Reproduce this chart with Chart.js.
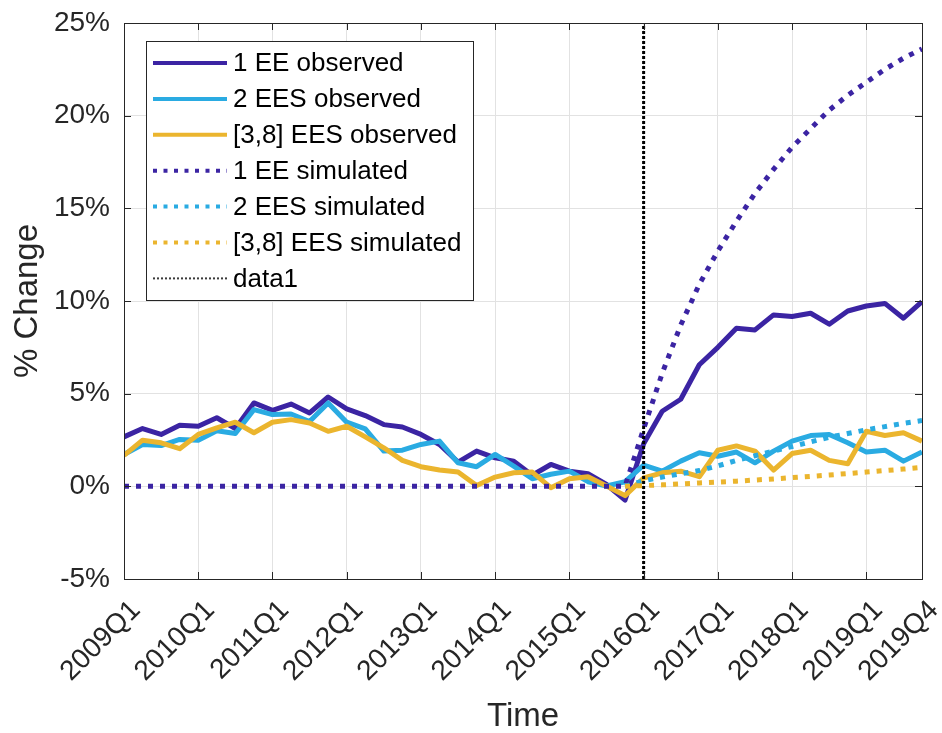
<!DOCTYPE html>
<html>
<head>
<meta charset="utf-8">
<title>% Change by quarter</title>
<script src="https://cdn.jsdelivr.net/npm/chart.js@4.4.1/dist/chart.umd.min.js"></script>
<style>
  html, body { margin: 0; padding: 0; background: #fff; }
  #wrap { width: 942px; height: 733px; }
</style>
</head>
<body>
<div id="wrap"><canvas id="changeChart" width="942" height="733"></canvas></div>
<script>
// quarters on the x axis
var quarters = [
    '2009Q1', '2009Q2', '2009Q3', '2009Q4', '2010Q1', '2010Q2', '2010Q3', '2010Q4',
    '2011Q1', '2011Q2', '2011Q3', '2011Q4', '2012Q1', '2012Q2', '2012Q3', '2012Q4',
    '2013Q1', '2013Q2', '2013Q3', '2013Q4', '2014Q1', '2014Q2', '2014Q3', '2014Q4',
    '2015Q1', '2015Q2', '2015Q3', '2015Q4', '2016Q1', '2016Q2', '2016Q3', '2016Q4',
    '2017Q1', '2017Q2', '2017Q3', '2017Q4', '2018Q1', '2018Q2', '2018Q3', '2018Q4',
    '2019Q1', '2019Q2', '2019Q3', '2019Q4'
];
var tickQuarters = ['2009Q1', '2010Q1', '2011Q1', '2012Q1', '2013Q1', '2014Q1',
    '2015Q1', '2016Q1', '2017Q1', '2018Q1', '2019Q1', '2019Q4'];
var yTicks = [-5, 0, 5, 10, 15, 20, 25];

// observed series (% change)
var ee1Observed = [2.67, 3.12, 2.8, 3.3, 3.24, 3.7, 3.12, 4.5, 4.1, 4.44, 3.96, 4.82,
    4.18, 3.82, 3.33, 3.2, 2.8, 2.26, 1.31, 1.9, 1.54, 1.36, 0.6, 1.18,
    0.82, 0.68, 0.1, -0.74, 2.3, 4.05, 4.7, 6.56, 7.5, 8.53, 8.44, 9.25,
    9.16, 9.34, 8.75, 9.46, 9.73, 9.87, 9.07, 9.96];
var ees2Observed = [1.72, 2.26, 2.2, 2.53, 2.49, 3.0, 2.85, 4.14, 3.87, 3.9, 3.5, 4.5,
    3.46, 3.1, 1.9, 1.95, 2.26, 2.44, 1.27, 1.06, 1.72, 1.09, 0.41, 0.65,
    0.82, 0.25, 0.02, 0.25, 1.15, 0.82, 1.36, 1.81, 1.62, 1.85, 1.27, 1.9,
    2.44, 2.74, 2.8, 2.35, 1.85, 1.95, 1.36, 1.85];
var ees38Observed = [1.67, 2.49, 2.35, 2.03, 2.8, 3.15, 3.46, 2.89, 3.46, 3.6, 3.42, 2.97,
    3.24, 2.67, 2.08, 1.4, 1.06, 0.88, 0.77, 0.05, 0.5, 0.73, 0.77, -0.07,
    0.41, 0.52, 0.02, -0.5, 0.45, 0.73, 0.82, 0.52, 1.95, 2.18, 1.9, 0.88,
    1.77, 1.95, 1.4, 1.22, 2.97, 2.74, 2.89, 2.44];

// simulated series (% change)
var ee1Simulated = [0, 0, 0, 0, 0, 0, 0, 0, 0, 0, 0, 0, 0, 0, 0, 0, 0, 0, 0, 0,
    0, 0, 0, 0, 0, 0, 0, 0, 3.1, 6.1, 8.7, 10.9, 12.7, 14.3, 15.8, 17.1,
    18.3, 19.3, 20.3, 21.1, 21.8, 22.5, 23.1, 23.6];
var ees2Simulated = [null, null, null, null, null, null, null, null, null, null, null, null,
    null, null, null, null, null, null, null, null, null, null, null, null, null, null, null,
    0, 0.3, 0.5, 0.68, 0.85, 1.1, 1.4, 1.65, 1.9, 2.15, 2.4, 2.65, 2.85,
    3.05, 3.22, 3.4, 3.55];
var ees38Simulated = [null, null, null, null, null, null, null, null, null, null, null, null,
    null, null, null, null, null, null, null, null, null, null, null, null, null, null, null,
    0, 0.04, 0.08, 0.13, 0.18, 0.23, 0.28, 0.34, 0.4, 0.47, 0.54, 0.61, 0.69,
    0.77, 0.85, 0.93, 1.02];

// vertical marker ("data1")
var markerQuarter = '2016Q1';
var markerRange = [-5, 25];

var PURPLE = '#3b24a3';
var CYAN = '#2aabe2';
var YELLOW = '#ebb52e';
var AXIS = '#262626';
var FONT = '"Liberation Sans", Arial, Helvetica, sans-serif';

function toPoints(values) {
    return values.map(function(v, i) { return {x: i, y: v}; });
}

function lineSet(label, values, color, dotted) {
    return {
        label: label,
        data: toPoints(values),
        borderColor: color,
        backgroundColor: color,
        borderWidth: 5,
        borderDash: dotted ? [5, 7] : [],
        borderCapStyle: 'butt',
        borderJoinStyle: dotted ? 'miter' : 'round',
        legendWidth: 4,
        legendDash: dotted ? [4, 6.5] : [],
        pointRadius: 0,
        tension: 0,
        fill: false,
        spanGaps: false
    };
}

var markerX = quarters.indexOf(markerQuarter);
var datasets = [
    lineSet('1 EE observed', ee1Observed, PURPLE, false),
    lineSet('2 EES observed', ees2Observed, CYAN, false),
    lineSet('[3,8] EES observed', ees38Observed, YELLOW, false),
    lineSet('1 EE simulated', ee1Simulated, PURPLE, true),
    lineSet('2 EES simulated', ees2Simulated, CYAN, true),
    lineSet('[3,8] EES simulated', ees38Simulated, YELLOW, true),
    {
        label: 'data1',
        data: [{x: markerX, y: markerRange[0]}, {x: markerX, y: markerRange[1]}],
        borderColor: '#000000',
        borderWidth: 3,
        borderDash: [3, 2],
        borderCapStyle: 'butt',
        legendColor: '#3a3a3a',
        legendWidth: 2,
        legendDash: [2, 2],
        pointRadius: 0,
        fill: false
    }
];
// later series are drawn on top, as in the original plot
datasets.forEach(function(ds, i) { ds.order = datasets.length - i; });

// box around the plot with inward tick marks
var framePlugin = {
    id: 'frame',
    afterDatasetsDraw: function(chart) {
        var ctx = chart.ctx, a = chart.chartArea;
        var xs = chart.scales.x, ys = chart.scales.y;
        var len = 7;
        ctx.save();
        ctx.strokeStyle = AXIS;
        ctx.lineWidth = 1;
        ctx.beginPath();
        xs.ticks.forEach(function(t) {
            var px = Math.round(xs.getPixelForValue(t.value)) + 0.5;
            ctx.moveTo(px, a.bottom); ctx.lineTo(px, a.bottom - len);
            ctx.moveTo(px, a.top); ctx.lineTo(px, a.top + len);
        });
        ys.ticks.forEach(function(t) {
            var py = Math.round(ys.getPixelForValue(t.value)) + 0.5;
            ctx.moveTo(a.left, py); ctx.lineTo(a.left + len, py);
            ctx.moveTo(a.right, py); ctx.lineTo(a.right - len, py);
        });
        ctx.stroke();
        ctx.strokeRect(Math.round(a.left) + 0.5, Math.round(a.top) + 0.5,
            Math.round(a.right - a.left), Math.round(a.bottom - a.top));
        ctx.restore();
    }
};

// boxed legend in the upper left of the plot
var boxLegendPlugin = {
    id: 'boxLegend',
    afterDraw: function(chart) {
        var ctx = chart.ctx, a = chart.chartArea;
        var left = a.left + 22, top = a.top + 18;
        var width = 327, rowH = 35.9, padTop = 22;
        var height = padTop * 2 + rowH * (chart.data.datasets.length - 1);
        ctx.save();
        ctx.fillStyle = '#ffffff';
        ctx.fillRect(left, top, width, height);
        ctx.strokeStyle = AXIS;
        ctx.lineWidth = 1;
        ctx.strokeRect(Math.round(left) + 0.5, Math.round(top) + 0.5, width, Math.round(height));
        ctx.font = '26px ' + FONT;
        ctx.textBaseline = 'middle';
        ctx.textAlign = 'left';
        chart.data.datasets.forEach(function(ds, i) {
            var y = top + padTop + i * rowH;
            ctx.beginPath();
            ctx.strokeStyle = ds.legendColor || ds.borderColor;
            ctx.lineWidth = ds.legendWidth;
            ctx.setLineDash(ds.legendDash);
            ctx.lineCap = 'butt';
            ctx.moveTo(left + 7, y);
            ctx.lineTo(left + 81, y);
            ctx.stroke();
            ctx.setLineDash([]);
            ctx.fillStyle = '#000000';
            ctx.fillText(ds.label, left + 87, y + 1);
        });
        ctx.restore();
    }
};

// fixed axis sizes, without the extra room Chart.js keeps for edge labels
function fixSize(size, horizontal) {
    return function(scale) {
        if (horizontal) { scale.height = size; } else { scale.width = size; }
        scale.paddingTop = 0;
        scale.paddingBottom = 0;
        scale.paddingLeft = 0;
        scale.paddingRight = 0;
    };
}

window.onload = function() {
    var ctx = document.getElementById('changeChart').getContext('2d');
    new Chart(ctx, {
        type: 'line',
        data: {datasets: datasets},
        plugins: [framePlugin, boxLegendPlugin],
        options: {
            responsive: false,
            animation: false,
            layout: {padding: {left: 0, right: 20, top: 23, bottom: 0}},
            plugins: {
                legend: {display: false},
                tooltip: {enabled: false}
            },
            scales: {
                x: {
                    type: 'linear',
                    min: 0,
                    max: quarters.length - 1,
                    afterBuildTicks: function(scale) {
                        scale.ticks = tickQuarters.map(function(q) {
                            return {value: quarters.indexOf(q)};
                        });
                    },
                    afterFit: fixSize(154, true),
                    ticks: {
                        autoSkip: false,
                        minRotation: 45,
                        maxRotation: 45,
                        padding: 15,
                        labelOffset: 12,
                        color: AXIS,
                        font: {family: FONT, size: 28},
                        callback: function(value) { return quarters[value]; }
                    },
                    grid: {color: '#e2e2e2', lineWidth: 1, drawTicks: false},
                    border: {display: false},
                    title: {
                        display: true,
                        text: 'Time',
                        color: AXIS,
                        font: {family: FONT, size: 33, lineHeight: 1},
                        padding: {top: 0, bottom: 0}
                    }
                },
                y: {
                    min: yTicks[0],
                    max: yTicks[yTicks.length - 1],
                    afterBuildTicks: function(scale) {
                        scale.ticks = yTicks.map(function(v) { return {value: v}; });
                    },
                    afterFit: fixSize(124, false),
                    ticks: {
                        padding: 14,
                        color: AXIS,
                        font: {family: FONT, size: 28},
                        callback: function(value) { return value + '%'; }
                    },
                    grid: {color: '#e2e2e2', lineWidth: 1, drawTicks: false},
                    border: {display: false},
                    title: {
                        display: true,
                        text: '% Change',
                        color: AXIS,
                        font: {family: FONT, size: 33, lineHeight: 1},
                        padding: {top: 11, bottom: 0}
                    }
                }
            }
        }
    });
};
</script>
</body>
</html>
